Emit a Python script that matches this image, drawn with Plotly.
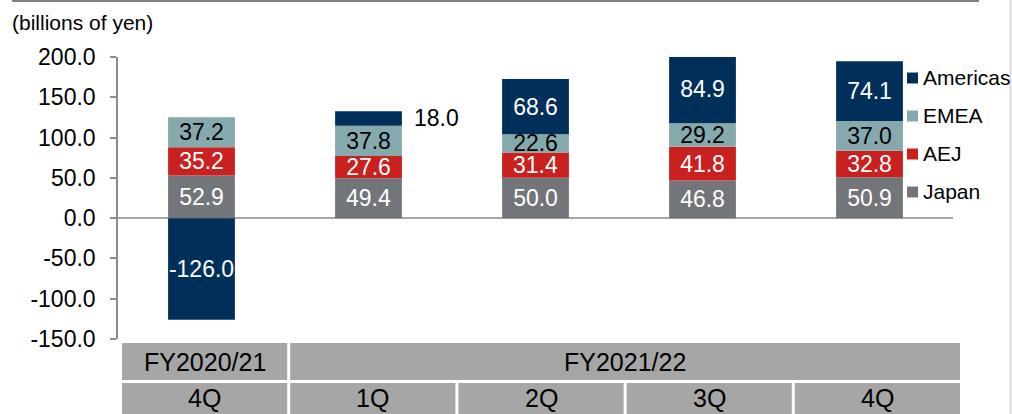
import plotly.graph_objects as go

# ---- data ----
quarters = ["4Q", "1Q", "2Q", "3Q", "4Q"]
fiscal_years = ["FY2020/21", "FY2021/22"]
fy_quarter_counts = [1, 4]
japan = [52.9, 49.4, 50.0, 46.8, 50.9]
aej = [35.2, 27.6, 31.4, 41.8, 32.8]
emea = [37.2, 37.8, 22.6, 29.2, 37.0]
americas = [-126.0, 18.0, 68.6, 84.9, 74.1]
series_names = ["Japan", "AEJ", "EMEA", "Americas"]
y_ticks = [200, 150, 100, 50, 0, -50, -100, -150]
unit_label = "(billions of yen)"

# ---- style ----
FONT = "Liberation Sans, Arial, sans-serif"
colors = {"Japan": "#727579", "AEJ": "#C8211F", "EMEA": "#85A9AD", "Americas": "#00305A"}
text_colors = {"Japan": "white", "AEJ": "white", "EMEA": "black", "Americas": "white"}

W, H = 1012, 414
L, R, T, B = 118, 59, 57, 75
PW, PH = W - L - R, H - T - B


def px(x):
    return (x - L) / PW


def py(y):
    return (H - B - y) / PH


x_pos = list(range(len(quarters)))
values = {"Japan": japan, "AEJ": aej, "EMEA": emea, "Americas": americas}

fig = go.Figure()
for name in series_names:
    vals = values[name]
    texts = [f"{v:.1f}" for v in vals]
    if name == "Americas":
        # small positive segment labelled outside (to the right)
        texts = [t if (v < 0 or v > 30) else "" for t, v in zip(texts, vals)]
    fig.add_trace(go.Bar(
        x=x_pos, y=vals, name=name,
        marker=dict(color=colors[name], line=dict(width=0)),
        text=texts, textposition="inside", insidetextanchor="middle",
        textangle=0, constraintext="none",
        insidetextfont=dict(family=FONT, size=23, color=text_colors[name]),
        showlegend=False,
    ))

# outside label for the small Americas segment
for i, v in enumerate(americas):
    if 0 < v <= 30:
        base = japan[i] + aej[i] + emea[i]
        fig.add_annotation(x=x_pos[i], y=base + v / 2, xref="x", yref="y",
                           text=f"{v:.1f}", showarrow=False, xanchor="left",
                           xshift=43, font=dict(family=FONT, size=23, color="black"))

# ---- manual legend ----
legend_order = ["Americas", "EMEA", "AEJ", "Japan"]
legend_y = [78, 116, 154, 192]
for name, yc in zip(legend_order, legend_y):
    fig.add_shape(type="rect", xref="paper", yref="paper",
                  x0=px(907), x1=px(918), y0=py(yc + 5.5), y1=py(yc - 5.5),
                  fillcolor=colors[name], line=dict(width=0))
    fig.add_annotation(xref="paper", yref="paper", x=px(921), y=py(yc - 1),
                       text=name, showarrow=False, xanchor="left", yanchor="middle",
                       font=dict(family=FONT, size=21, color="black"))

# ---- category table below the plot ----
TBL_LEFT, CELL_W, GAP = 122, 168.2, 3
row1 = (343, 380)
row2 = (383, 418)
TABLE_FILL = "#A6A6A6"
start = 0
for fy, n in zip(fiscal_years, fy_quarter_counts):
    x0 = TBL_LEFT + start * CELL_W
    x1 = TBL_LEFT + (start + n) * CELL_W - GAP
    fig.add_shape(type="rect", xref="paper", yref="paper",
                  x0=px(x0), x1=px(x1), y0=py(row1[1]), y1=py(row1[0]),
                  fillcolor=TABLE_FILL, line=dict(width=0), layer="below")
    fig.add_annotation(xref="paper", yref="paper", x=px((x0 + x1) / 2),
                       y=py(362), text=fy, showarrow=False,
                       xanchor="center", yanchor="middle",
                       font=dict(family=FONT, size=25, color="black"))
    start += n
for i, q in enumerate(quarters):
    x0 = TBL_LEFT + i * CELL_W
    x1 = x0 + CELL_W - GAP
    fig.add_shape(type="rect", xref="paper", yref="paper",
                  x0=px(x0), x1=px(x1), y0=py(row2[1]), y1=py(row2[0]),
                  fillcolor=TABLE_FILL, line=dict(width=0), layer="below")
    fig.add_annotation(xref="paper", yref="paper", x=px((x0 + x1) / 2),
                       y=py(398), text=q, showarrow=False,
                       xanchor="center", yanchor="middle",
                       font=dict(family=FONT, size=25, color="black"))

# ---- decorations ----
fig.add_shape(type="line", xref="paper", yref="paper",
              x0=px(12), x1=px(979), y0=py(1), y1=py(1),
              line=dict(color="#7F7F7F", width=2))
fig.add_shape(type="line", xref="paper", yref="paper",
              x0=px(1010.5), x1=px(1010.5), y0=py(0), y1=py(H),
              line=dict(color="#D9D9D9", width=2))
fig.add_annotation(xref="paper", yref="paper", x=px(10), y=py(22),
                   text=unit_label, showarrow=False, xanchor="left", yanchor="middle",
                   font=dict(family=FONT, size=21, color="black"))

fig.update_layout(
    width=W, height=H,
    margin=dict(l=L, r=R, t=T, b=B, pad=0),
    barmode="relative", bargap=0.6,
    plot_bgcolor="white", paper_bgcolor="white",
    font=dict(family=FONT, size=23, color="black"),
    xaxis=dict(range=[-0.5, len(quarters) - 0.5], visible=False, fixedrange=True),
    yaxis=dict(range=[-150, 200], tickvals=y_ticks,
               ticktext=[f"{v:.1f}" for v in y_ticks],
               showgrid=False, zeroline=True, zerolinecolor="#A6A6A6", zerolinewidth=2,
               showline=True, linecolor="#8C8C8C", linewidth=1.5,
               ticks="outside", ticklen=6, tickcolor="#8C8C8C", tickwidth=1.5,
               ticklabelstandoff=10,
               tickfont=dict(family=FONT, size=23, color="black")),
    showlegend=False,
)

fig.write_html("out.html",
               config={"displayModeBar": False},
               post_script="document.body.style.margin='0px';document.body.style.overflow='hidden';")
